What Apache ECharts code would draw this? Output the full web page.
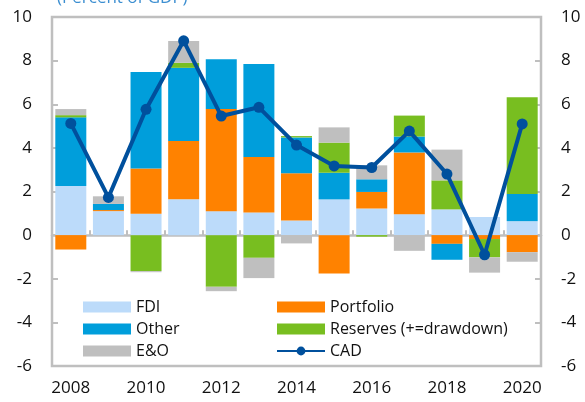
<!DOCTYPE html>
<html>
<head>
<meta charset="utf-8">
<script src="https://cdn.jsdelivr.net/npm/echarts@6/dist/echarts.min.js"></script>
<style>html,body{margin:0;padding:0;background:#fff}#c{width:585px;height:402px}</style>
</head>
<body>
<div id="c"></div>
<script>
var years = ['2008','2009','2010','2011','2012','2013','2014','2015','2016','2017','2018','2019','2020'];
var fdi = [2.25, 1.1, 0.98, 1.65, 1.1, 1.04, 0.67, 1.64, 1.22, 0.96, 1.18, 0.83, 0.64];
var portfolio = [-0.66, 0.05, 2.08, 2.66, 4.68, 2.54, 2.17, -1.76, 0.76, 2.83, -0.4, -0.18, -0.78];
var other = [3.15, 0.28, 4.42, 3.36, 2.28, 4.27, 1.64, 1.22, 0.58, 0.73, -0.73, 0, 1.25];
var reserves = [0.1, 0, -1.65, 0.23, -2.37, -1.04, 0.06, 1.38, -0.07, 0.96, 1.33, -0.84, 4.43];
var eo = [0.28, 0.35, -0.05, 1.0, -0.2, -0.93, -0.38, 0.7, 0.64, -0.72, 1.41, -0.7, -0.44];
var cad = [5.12, 1.73, 5.77, 8.91, 5.46, 5.86, 4.13, 3.17, 3.1, 4.77, 2.8, -0.9, 5.1];
var yTicks = {min: -6, max: 10, interval: 2};

var chart = echarts.init(document.getElementById('c'), null, {renderer: 'canvas'});
var gray = '#BFBFBF';
var font = 'Open Sans';
function bar(name, data, color) {
  return {name: name, type: 'bar', stack: 'a', data: data, barWidth: 31,
    xAxisIndex: 0, yAxisIndex: 0,
    itemStyle: {color: color}, emphasis: {disabled: true}};
}
var yBase = {
  type: 'value', min: yTicks.min, max: yTicks.max, interval: yTicks.interval,
  axisLine: {show: false},
  axisTick: {show: true, inside: true, length: 6, lineStyle: {color: gray, width: 2}},
  axisLabel: {fontSize: 17, color: '#111', margin: 20, fontFamily: font},
  splitLine: {show: false}
};
chart.setOption({
  animation: false,
  textStyle: {fontFamily: font},
  grid: {left: 52, right: 44, top: 17, bottom: 36, show: true, borderColor: gray, borderWidth: 2.5, backgroundColor: 'transparent'},
  graphic: [{type: 'text', left: 57, top: -10, style: {text: '(Percent of GDP)', fontSize: 17, fill: '#3D8FD1', fontFamily: font}}],
  xAxis: [
    {type: 'category', data: years, position: 'bottom',
      axisLine: {show: false, onZero: false}, axisTick: {show: false},
      axisLabel: {interval: 1, fontSize: 17, color: '#111', margin: 14, fontFamily: font}},
    {type: 'category', data: years, position: 'bottom',
      axisLine: {show: true, onZero: true, lineStyle: {color: gray, width: 2.5}},
      axisTick: {show: true, inside: true, length: 5, lineStyle: {color: gray, width: 2}},
      axisLabel: {show: false}}
  ],
  yAxis: [
    Object.assign({}, yBase, {position: 'left'}),
    Object.assign({}, yBase, {position: 'right'})
  ],
  legend: [
    {orient: 'vertical', left: 78, top: 292, itemWidth: 48, itemHeight: 11, itemGap: 2,
      textStyle: {fontSize: 16, color: '#111', lineHeight: 20, fontFamily: font},
      data: [{name: 'FDI', icon: 'rect'}, {name: 'Other', icon: 'rect'}, {name: 'E&O', icon: 'rect'}]},
    {orient: 'vertical', left: 271, top: 292, itemWidth: 48, itemHeight: 11, itemGap: 2,
      textStyle: {fontSize: 16, color: '#111', lineHeight: 20, fontFamily: font},
      data: [{name: 'Portfolio', icon: 'rect'}, {name: 'Reserves (+=drawdown)', icon: 'rect'}, {name: 'CAD'}]}
  ],
  series: [
    bar('FDI', fdi, '#BCDBFA'),
    bar('Portfolio', portfolio, '#FF8200'),
    bar('Other', other, '#009EDB'),
    bar('Reserves (+=drawdown)', reserves, '#78BE20'),
    bar('E&O', eo, gray),
    {name: 'CAD', type: 'line', data: cad, xAxisIndex: 0, yAxisIndex: 0, z: 10,
      symbol: 'circle', symbolSize: 11,
      lineStyle: {color: '#00509D', width: 4}, itemStyle: {color: '#00509D'}}
  ]
});
</script>
</body>
</html>
